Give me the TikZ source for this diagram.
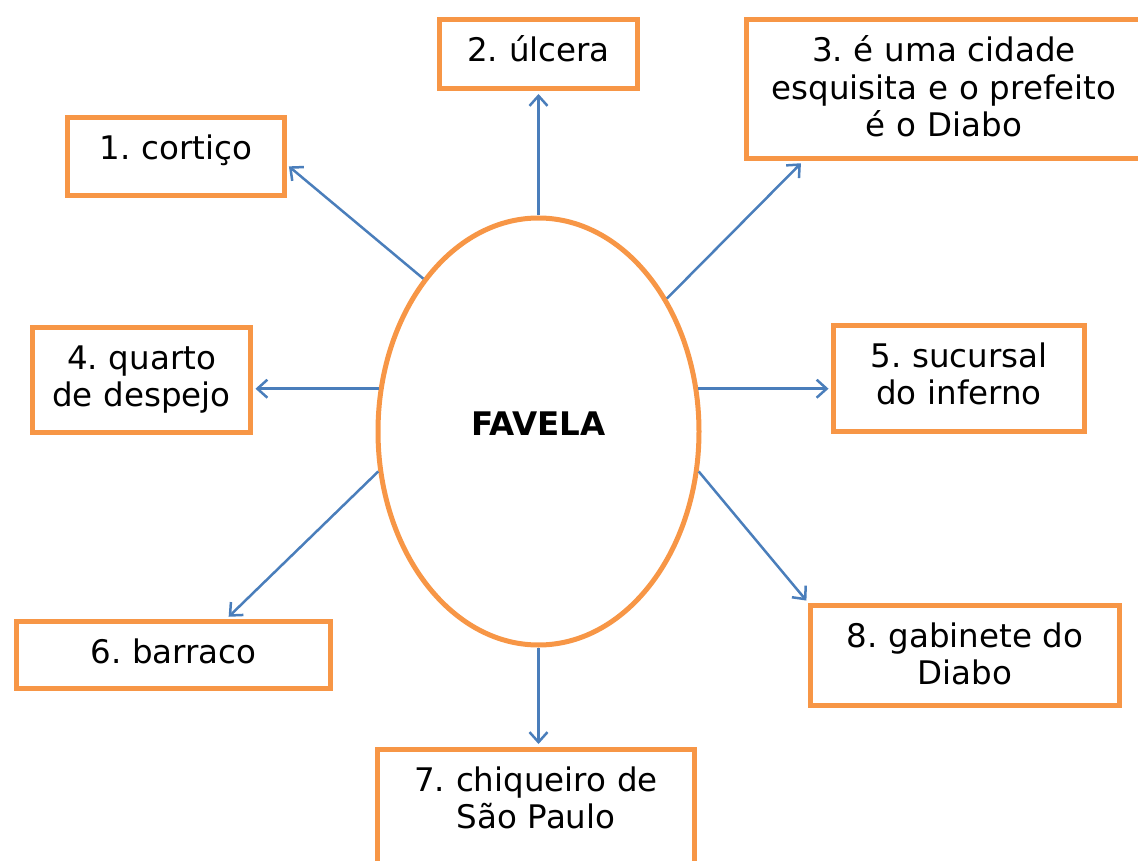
\documentclass[tikz,border=0pt]{standalone}
\usepackage{fontspec}
\setmainfont{DejaVu Sans}
\usepackage{xcolor}
\usepackage{tikz}
\usetikzlibrary{shapes}
\usetikzlibrary{arrows.meta}
\definecolor{favorange}{HTML}{F79646}
\definecolor{favblue}{HTML}{4A7EBB}
\frenchspacing

\begin{document}
\begin{tikzpicture}[
  x=1pt, y=-1pt,
  box/.style={rectangle, draw=favorange, line width=5pt, anchor=north,
    inner sep=0pt, align=center, text height=42pt},
  link/.style={draw=favblue, line width=2.5pt, shorten >=2.5pt,
    -{Straight Barb[length=10pt,width=18pt]}},
  font=\fontsize{32.5}{37.5}\selectfont]
  \clip (0,0) rectangle (1138,861);
  % centre
  \node[ellipse, draw=favorange, line width=5pt, minimum width=321pt,
    minimum height=427pt, inner sep=0pt, font=\fontsize{32.5}{36}\selectfont\bfseries,
    text height=20pt, text depth=13pt] (fav) at (538.5,431.5) {FAVELA};
  % boxes
  \node[box, text width=217pt, text depth=36pt] (b1) at (176,115.5) {1. cortiço};
  \node[box, text width=198pt, text depth=27pt] (b2) at (538.5,17.5) {2. úlcera};
  \node[box, text width=395pt, text depth=97pt] (b3) at (944,17.5)
    {3. é uma cidade\\ esquisita e o prefeito\\ é o Diabo};
  \node[box, text width=218pt, text depth=63pt] (b4) at (141.5,324.5) {4. quarto\\ de despejo};
  \node[box, text width=251pt, text depth=64pt] (b5) at (959,322.5) {5. sucursal\\ do inferno};
  \node[box, text width=314pt, text depth=25pt] (b6) at (173.5,618.5) {6. barraco};
  \node[box, text width=317pt, text depth=98pt] (b7) at (536,746.5) {7. chiqueiro de\\ São Paulo};
  \node[box, text width=309pt, text depth=58pt] (b8) at (965,602.5) {8. gabinete do\\ Diabo};
  % arrows
  \draw[link] (fav.127) -- (b1.-4.4);
  \draw[link] (fav.north) -- (b2.south);
  \draw[link] (fav.46) -- (b3.207.4);
  \draw[link] (fav.165) -- (fav.165 -| b4.east);
  \draw[link] (fav.15) -- (fav.15 -| b5.west);
  \draw[link] (fav.194) -- (b6.34.6);
  \draw[link] (fav.south) -- (fav.south |- b7.north);
  \draw[link] (fav.-14) -- (b8.north west);
\end{tikzpicture}
\end{document}
